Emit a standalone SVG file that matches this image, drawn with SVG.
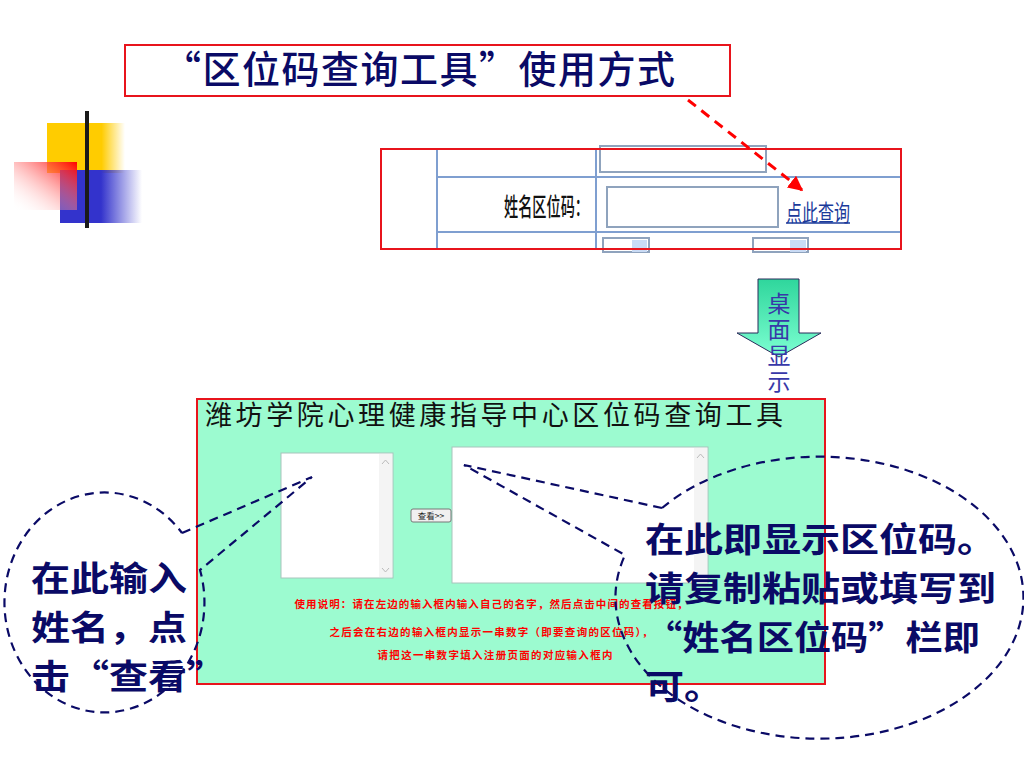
<svg xmlns="http://www.w3.org/2000/svg" width="1024" height="768" viewBox="0 0 1024 768">
<style>
.cjk{font-family:"Noto Sans CJK SC","Liberation Sans",sans-serif}
.navy{fill:#0a0a66}
.call{font-size:33.8px;font-weight:bold}
.dash{fill:none;stroke:#0a0a66;stroke-width:2.2;stroke-dasharray:9 6}
.grid{stroke:#7f9fd0;stroke-width:2;fill:none}
.inbox{fill:#fff;stroke:#8fa3bd;stroke-width:2}
.ta{fill:#fff;stroke:#a8c4bc;stroke-width:1}
.sb{fill:#f4f4f4;stroke:none}
.red{fill:#ff0000;font-weight:bold;font-size:10.5px}
</style>
<defs>
<linearGradient id="gY" x1="0" x2="1" y1="0" y2="0"><stop offset="0.7" stop-color="#ffcc00"/><stop offset="1" stop-color="#ffcc00" stop-opacity="0"/></linearGradient>
<linearGradient id="gB" x1="0" x2="1" y1="0" y2="0"><stop offset="0.5" stop-color="#3333cc"/><stop offset="1" stop-color="#3333cc" stop-opacity="0"/></linearGradient>
<linearGradient id="gR" x1="1" y1="0" x2="0" y2="1"><stop offset="0" stop-color="#ff0000"/><stop offset="1" stop-color="#ffffff" stop-opacity="0"/></linearGradient>
<linearGradient id="gL" x1="0" x2="1" y1="0" y2="0"><stop offset="0" stop-color="#111"/><stop offset="0.4" stop-color="#777"/><stop offset="1" stop-color="#eee" stop-opacity="0.3"/></linearGradient>
<linearGradient id="gG" x1="0" x2="0" y1="0" y2="1"><stop offset="0" stop-color="#2fd69c"/><stop offset="1" stop-color="#7dffd2"/></linearGradient>
<marker id="arR" viewBox="0 0 10 10" refX="9" refY="5" markerWidth="5" markerHeight="5" orient="auto"><path d="M0,0 L10,5 L0,10 z" fill="#ff0000"/></marker>
</defs>
<rect width="1024" height="768" fill="#fff"/>

<g id="decor">
<rect x="47" y="123" width="78" height="50" fill="url(#gY)"/>
<rect x="60" y="170" width="82" height="53" fill="url(#gB)"/>
<rect x="14" y="162" width="63" height="48" fill="url(#gR)"/>
<line x1="49" y1="201" x2="960" y2="201" stroke="url(#gL)" stroke-width="5"/>
<line x1="87" y1="111" x2="87" y2="228" stroke="#1a1a1a" stroke-width="4"/>
</g>

<g id="title">
<rect x="125" y="45" width="605" height="51" fill="#fff" stroke="#e8141c" stroke-width="2"/>
<text x="163" y="83" class="cjk navy" font-size="38" font-weight="500" textLength="512" lengthAdjust="spacing">“区位码查询工具”使用方式</text>
</g>

<g id="screenshot">
<rect x="381" y="149" width="520" height="100" fill="#fff"/>
<line x1="437" y1="149" x2="437" y2="249" class="grid"/>
<line x1="596" y1="149" x2="596" y2="249" class="grid"/>
<line x1="437" y1="177" x2="901" y2="177" class="grid"/>
<line x1="437" y1="232" x2="901" y2="232" class="grid"/>
<rect x="600" y="146" width="166" height="26" class="inbox"/>
<rect x="607" y="187" width="171" height="40" class="inbox"/>
<rect x="603" y="238" width="46" height="14" class="inbox" stroke-width="1.5"/>
<rect x="632" y="240" width="15" height="12" fill="#c9dbf5"/>
<rect x="753" y="238" width="55" height="14" class="inbox" stroke-width="1.5"/>
<rect x="790" y="240" width="16" height="12" fill="#c9dbf5"/>
<text x="589" y="216" class="cjk" font-size="25" font-weight="500" fill="#111" text-anchor="end" textLength="85" lengthAdjust="spacingAndGlyphs">姓名区位码：</text>
<text x="786" y="221" class="cjk" font-size="23" fill="#1a3a9a" textLength="64" lengthAdjust="spacingAndGlyphs">点此查询</text>
<line x1="786" y1="223" x2="850" y2="223" stroke="#1a3a9a" stroke-width="1.5"/>
<rect x="381" y="149" width="520" height="100" fill="none" stroke="#e8141c" stroke-width="2"/>
</g>

<g id="connectors">
<line x1="688" y1="100" x2="802" y2="190" stroke="#ff0000" stroke-width="3" stroke-dasharray="10 7" marker-end="url(#arR)"/>
</g>

<g id="down-arrow">
<path d="M758,279 L799,279 L799,333 L821,333 L779,357 L737,333 L758,333 Z" fill="url(#gG)" stroke="#2a2a5a" stroke-width="1"/>
<text x="779" y="292" class="cjk" font-size="23" fill="#3838a8" writing-mode="vertical-rl" letter-spacing="3">桌面显示</text>
</g>

<g id="tool-panel">
<rect x="197" y="399" width="628" height="285" fill="#9cfbd0" stroke="#e8141c" stroke-width="2"/>
<text x="205" y="425" class="cjk" font-size="27" fill="#111" textLength="578" lengthAdjust="spacing">潍坊学院心理健康指导中心区位码查询工具</text>
<rect x="281" y="453" width="112" height="125" class="ta"/>
<rect x="379" y="454" width="13" height="123" class="sb"/>
<path d="M382,464 L385.5,460 L389,464" fill="none" stroke="#bbb" stroke-width="1"/>
<path d="M382,568 L385.5,572 L389,568" fill="none" stroke="#bbb" stroke-width="1"/>
<rect x="452" y="447" width="256" height="136" class="ta"/>
<rect x="694" y="448" width="13" height="134" class="sb"/>
<path d="M697,458 L700.5,454 L704,458" fill="none" stroke="#bbb" stroke-width="1"/>
<rect x="411" y="509" width="40" height="13" rx="2" fill="#f0f0f0" stroke="#777" stroke-width="1"/>
<text x="431" y="519" class="cjk" font-size="8.5" fill="#222" text-anchor="middle">查看&gt;&gt;</text>
<text x="491" y="608" class="cjk red" text-anchor="middle" textLength="393" lengthAdjust="spacing">使用说明：请在左边的输入框内输入自己的名字，然后点击中间的查看按钮，</text>
<text x="491" y="636" class="cjk red" text-anchor="middle" textLength="323" lengthAdjust="spacing">之后会在右边的输入框内显示一串数字（即要查询的区位码），</text>
<text x="495" y="659" class="cjk red" text-anchor="middle" textLength="235" lengthAdjust="spacing">请把这一串数字填入注册页面的对应输入框内</text>
</g>

<g id="callout-left">
<path d="M182,533 L312,477 L200,570 A100 110 0 1 1 182,533" class="dash"/>
<text x="31" y="591" class="cjk navy call" textLength="156" lengthAdjust="spacingAndGlyphs">在此输入</text>
<text x="31" y="640" class="cjk navy call" textLength="156" lengthAdjust="spacingAndGlyphs">姓名，点</text>
<text x="31" y="689" class="cjk navy call" textLength="195" lengthAdjust="spacingAndGlyphs">击“查看”</text>
</g>

<g id="callout-right">
<path d="M662,508 L464,465 L625,555 A204 141 0 1 0 662,508" class="dash"/>
<text x="645" y="552" class="cjk navy call" textLength="351" lengthAdjust="spacingAndGlyphs">在此即显示区位码。</text>
<text x="645" y="601" class="cjk navy call" textLength="351" lengthAdjust="spacingAndGlyphs">请复制粘贴或填写到</text>
<text x="645" y="650" class="cjk navy call" textLength="335" lengthAdjust="spacingAndGlyphs">“姓名区位码”栏即</text>
<text x="645" y="699" class="cjk navy call" textLength="78" lengthAdjust="spacingAndGlyphs">可。</text>
</g>
</svg>
